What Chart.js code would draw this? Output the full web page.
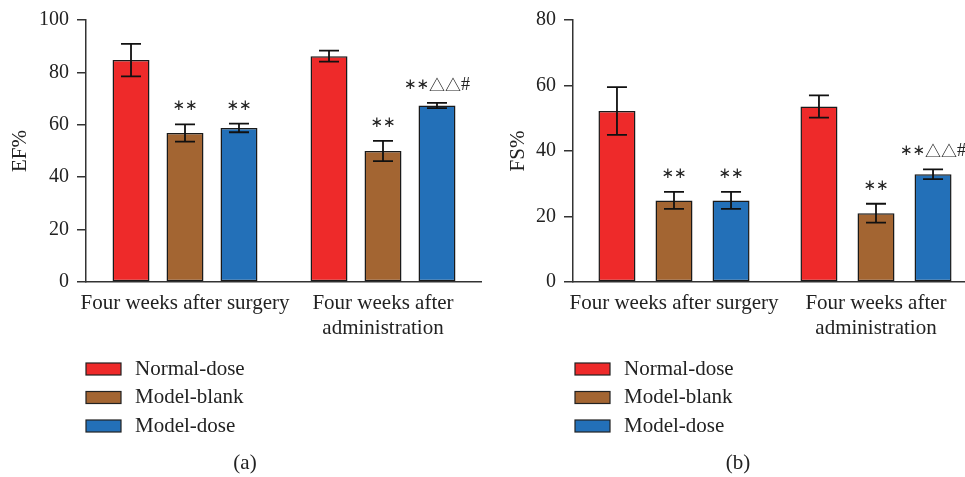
<!DOCTYPE html>
<html>
<head>
<meta charset="utf-8">
<script src="https://cdn.jsdelivr.net/npm/chart.js@4.4.1/dist/chart.umd.min.js"></script>
<style>
  html, body { margin: 0; padding: 0; background: #fff; overflow: hidden; }
  body { width: 965px; height: 477px; position: relative; }
  .panel { position: absolute; top: 0; }
</style>
</head>
<body>
<div class="panel" style="left:0;width:482px;height:477px"><canvas id="ef"></canvas></div>
<div class="panel" style="left:480px;width:497px;height:477px"><canvas id="fs"></canvas></div>
<script>
// Groups on the x axis (second label wraps onto two lines)
const categories = [['Four weeks after surgery'], ['Four weeks after', 'administration']];
const seriesNames = ['Normal-dose', 'Model-blank', 'Model-dose'];
const seriesColors = ['#EE2A2A', '#A36532', '#2370B8'];

// EF% means and error half-widths
const efNormal = [84.7, 86.2];
const efBlank = [56.9, 50.0];
const efDose = [58.8, 67.4];
const efNormalErr = [6.2, 2.1];
const efBlankErr = [3.3, 3.9];
const efDoseErr = [1.65, 1.0];

// FS% means and error half-widths
const fsNormal = [52.2, 53.6];
const fsBlank = [24.9, 21.0];
const fsDose = [24.9, 32.9];
const fsNormalErr = [7.3, 3.4];
const fsBlankErr = [2.6, 2.9];
const fsDoseErr = [2.6, 1.5];

// Significance marks above each bar
const efMarks = [['', ''], ['∗∗', '∗∗'], ['∗∗', '∗∗△△#']];
const fsMarks = [['', ''], ['∗∗', '∗∗'], ['∗∗', '∗∗△△#']];

const efTicks = { max: 100, step: 20 };
const fsTicks = { max: 80, step: 20 };

const SERIF = '"Liberation Serif", "Times New Roman", serif';
const INK = '#222';

// font used for each symbol of a significance mark
function markFont(ch) {
  if (ch === '△') return '16px "Noto Sans CJK JP", "DejaVu Sans", sans-serif';
  if (ch === '#') return '18px ' + SERIF;
  return '15px "DejaVu Sans", sans-serif';
}

function drawMark(ctx, text, cx, cy) {
  const chars = Array.from(text);
  const widths = chars.map(ch => { ctx.font = markFont(ch); return ctx.measureText(ch).width; });
  let x = cx - widths.reduce((a, b) => a + b, 0) / 2;
  ctx.textAlign = 'left';
  ctx.textBaseline = 'middle';
  chars.forEach((ch, k) => {
    ctx.font = markFont(ch);
    ctx.fillText(ch, x, cy);
    x += widths[k];
  });
}

// Draws error bars, significance marks, axis title, legend and panel caption
const extrasPlugin = {
  id: 'extras',
  afterDatasetsDraw(chart, args, opts) {
    const ctx = chart.ctx;
    const y = chart.scales.y;
    const area = chart.chartArea;
    ctx.save();
    chart.data.datasets.forEach((ds, di) => {
      const meta = chart.getDatasetMeta(di);
      meta.data.forEach((bar, i) => {
        const v = ds.data[i];
        const e = opts.errors[di][i];
        const yTop = y.getPixelForValue(v + e);
        const yBot = y.getPixelForValue(v - e);
        const x = bar.x;
        ctx.strokeStyle = '#111';
        ctx.lineWidth = 1.8;
        ctx.beginPath();
        ctx.moveTo(x, yTop); ctx.lineTo(x, yBot);
        ctx.moveTo(x - 10, yTop); ctx.lineTo(x + 10, yTop);
        ctx.moveTo(x - 10, yBot); ctx.lineTo(x + 10, yBot);
        ctx.stroke();
        const mark = opts.marks[di][i];
        if (mark) {
          ctx.fillStyle = INK;
          drawMark(ctx, mark, x, yTop - 18);
        }
      });
    });

    // rotated axis title
    ctx.fillStyle = INK;
    ctx.font = '21px ' + SERIF;
    ctx.textAlign = 'center';
    ctx.textBaseline = 'middle';
    ctx.save();
    ctx.translate(opts.titleX, (area.top + area.bottom) / 2);
    ctx.rotate(-Math.PI / 2);
    ctx.fillText(opts.title, 0, 0);
    ctx.restore();

    // legend
    chart.data.datasets.forEach((ds, di) => {
      const cy = area.bottom + 87 + di * 28.5;
      const bx = area.left + opts.legendShift;
      ctx.fillStyle = ds.backgroundColor;
      ctx.fillRect(bx, cy - 6, 35, 12);
      ctx.strokeStyle = '#222';
      ctx.lineWidth = 1.2;
      ctx.strokeRect(bx, cy - 6, 35, 12);
      ctx.fillStyle = INK;
      ctx.font = '21px ' + SERIF;
      ctx.textAlign = 'left';
      ctx.textBaseline = 'middle';
      ctx.fillText(ds.label, bx + 49, cy);
    });

    // caption
    ctx.textAlign = 'center';
    ctx.fillText(opts.caption, area.left + opts.captionShift, area.bottom + 181);
    ctx.restore();
  }
};

function makeChart(id, series, errors, marks, ticks, cfg) {
  return new Chart(document.getElementById(id), {
    type: 'bar',
    data: {
      labels: categories,
      datasets: series.map((d, i) => ({
        label: seriesNames[i],
        data: d,
        backgroundColor: seriesColors[i],
        borderColor: '#1a1a1a',
        borderWidth: 1.5,
        borderSkipped: false,
        categoryPercentage: cfg.catPct,
        barPercentage: cfg.barPct
      }))
    },
    options: {
      responsive: true,
      maintainAspectRatio: false,
      animation: false,
      layout: { padding: { top: 16, left: 0, right: 0, bottom: 0 } },
      plugins: {
        legend: { display: false },
        tooltip: { enabled: false },
        extras: {
          errors: errors, marks: marks, title: cfg.title, titleX: cfg.titleX,
          caption: cfg.caption, captionShift: cfg.captionShift, legendShift: cfg.legendShift
        }
      },
      scales: {
        x: {
          grid: { display: false },
          border: { display: true, color: '#333', width: 1.5 },
          ticks: {
            color: INK, padding: 1, maxRotation: 0, autoSkip: false,
            font: { family: SERIF, size: 21, lineHeight: 1.2 }
          },
          afterFit(scale) { scale.height = 195; }
        },
        y: {
          min: 0, max: ticks.max,
          grid: { display: true, drawOnChartArea: false, drawTicks: true, tickLength: 9, color: '#333', lineWidth: 1.5 },
          border: { display: true, color: '#333', width: 1.5 },
          ticks: {
            stepSize: ticks.step, color: INK, padding: 8,
            font: { family: SERIF, size: 20 }
          },
          afterFit(scale) { scale.width = cfg.axisWidth; }
        }
      }
    },
    plugins: [extrasPlugin]
  });
}

makeChart('ef', [efNormal, efBlank, efDose], [efNormalErr, efBlankErr, efDoseErr], efMarks, efTicks,
  { title: 'EF%', titleX: 20, caption: '(a)', captionShift: 159, legendShift: 0,
    axisWidth: 86, catPct: 0.818, barPct: 0.685 });

makeChart('fs', [fsNormal, fsBlank, fsDose], [fsNormalErr, fsBlankErr, fsDoseErr], fsMarks, fsTicks,
  { title: 'FS%', titleX: 38, caption: '(b)', captionShift: 165, legendShift: 2,
    axisWidth: 93, catPct: 0.847, barPct: 0.649 });
</script>
</body>
</html>
